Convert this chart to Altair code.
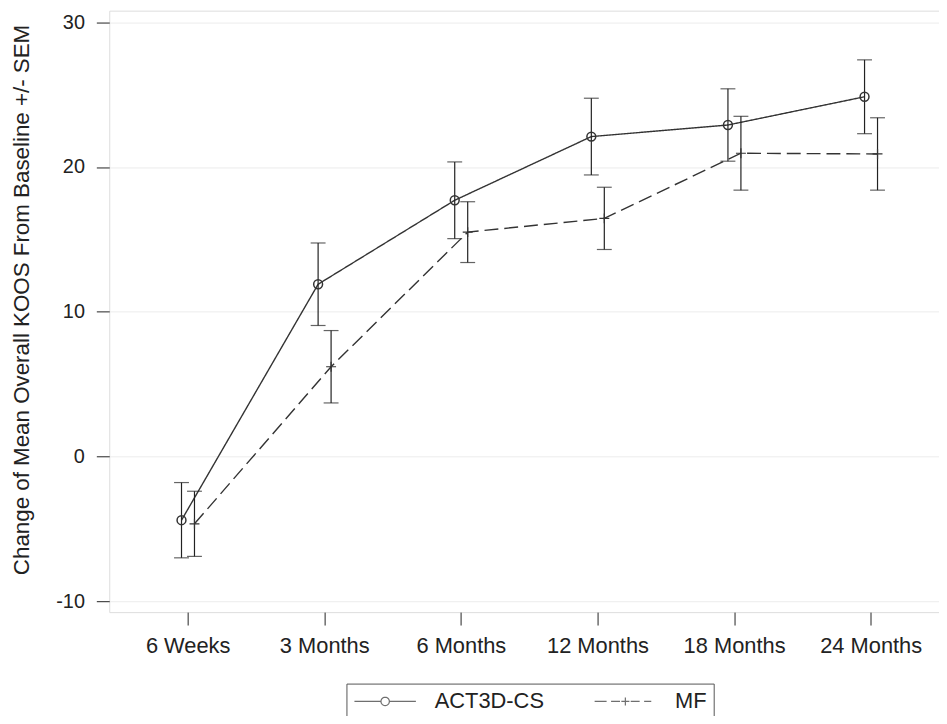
import math
import altair as alt
import pandas as pd

categories = ["6 Weeks", "3 Months", "6 Months", "12 Months", "18 Months", "24 Months"]
act_mean = [-4.4, 11.9, 17.7, 22.1, 22.9, 24.85]
act_sem = [2.6, 2.85, 2.65, 2.65, 2.5, 2.55]
mf_mean = [-4.65, 6.2, 15.5, 16.45, 20.95, 20.9]
mf_sem = [2.25, 2.5, 2.1, 2.15, 2.55, 2.5]
series_names = ["ACT3D-CS", "MF"]
y_ticks = [-10, 0, 10, 20, 30]

FONT = "Liberation Sans"
INK = "#333333"
DODGE = {"ACT3D-CS": -0.045, "MF": 0.05}

rows = []
for name, means, sems in [("ACT3D-CS", act_mean, act_sem), ("MF", mf_mean, mf_sem)]:
    for i, (m, s) in enumerate(zip(means, sems)):
        rows.append({"series": name, "idx": i, "x": i + DODGE[name],
                     "mean": m, "lo": m - s, "hi": m + s})
df = pd.DataFrame(rows)

label_expr = "[" + ",".join("'" + c + "'" for c in categories) + "][datum.value]"

xs = alt.Scale(domain=[-0.574, 5.5], nice=False, zero=False)
ys = alt.Scale(domain=[-10.75, 30.8], nice=False, zero=False)

x_axis = alt.Axis(values=list(range(len(categories))), labelExpr=label_expr, title=None,
                  grid=False, domain=False, tickSize=13, tickColor="#222", labelPadding=11,
                  labelFontSize=22, labelFont=FONT, labelColor="#222")
y_axis = alt.Axis(values=y_ticks, labelExpr="'' + datum.value",
                  title="Change of Mean Overall KOOS From Baseline +/- SEM",
                  grid=True, gridColor="#ececec", domain=False, tickSize=13, tickColor="#222",
                  labelPadding=12, labelFontSize=20, labelFont=FONT, labelColor="#222",
                  titleFontSize=22.5, titleFont=FONT, titleFontWeight="normal", titleColor="#222",
                  titlePadding=22, titleY=291)

base = alt.Chart(df)

def layers_for(name, dash, shape, size, sw):
    d = base.transform_filter(alt.datum.series == name)
    line = d.mark_line(color=INK, strokeWidth=1.4, strokeDash=dash).encode(
        x=alt.X("x:Q", scale=xs, axis=x_axis), y=alt.Y("mean:Q", scale=ys, axis=y_axis))
    rule = d.mark_rule(color="#222", strokeWidth=1.2).encode(
        x="x:Q", y="lo:Q", y2="hi:Q")
    cap_lo = d.mark_tick(orient="horizontal", color="#222", thickness=1.2, size=15).encode(
        x="x:Q", y="lo:Q")
    cap_hi = d.mark_tick(orient="horizontal", color="#222", thickness=1.2, size=15).encode(
        x="x:Q", y="hi:Q")
    pts = d.mark_point(shape=shape, filled=False, color=INK, size=size, strokeWidth=sw,
                       opacity=1).encode(x="x:Q", y="mean:Q")
    return [line, rule, cap_lo, cap_hi, pts]

# legend key paths (line + marker); 1 unit = 9 px with symbolSize 324
circ = []
r = 0.47
for k in range(25):
    a = 2 * math.pi * k / 24
    circ.append(("M" if k == 0 else "L") + f"{r*math.cos(a):.3f},{r*math.sin(a):.3f}")
act_path = f"M-3.44,0H-{r}M{r},0H3.44" + "".join(circ)
mf_path = ("M-3.44,0H-2.1M-1.6,0H-0.6M-0.45,0H0.45M0,-0.45V0.45"
           "M0.6,0H1.6M2.1,0H2.9")

legend_layer = base.transform_filter("false").mark_point(filled=False, color=INK).encode(
    x="x:Q", y="mean:Q",
    shape=alt.Shape("series:N",
                    scale=alt.Scale(domain=series_names, range=[act_path, mf_path]),
                    legend=alt.Legend(title=None, orient="none", direction="horizontal",
                                      legendX=239, legendY=678, symbolSize=324,
                                      symbolOffset=21, symbolStrokeWidth=1.2,
                                      symbolStrokeColor=INK, symbolFillColor="transparent",
                                      labelFontSize=22, labelFont=FONT, labelColor="#222",
                                      labelOffset=39, columnPadding=47, padding=7,
                                      strokeColor="#555", cornerRadius=0)))

chart = alt.layer(
    *layers_for("ACT3D-CS", [1, 0], "circle", 80, 1.5),
    *layers_for("MF", [14, 6], "M-1,0H1M0,-1V1", 100, 1.2),
    legend_layer,
).properties(
    width=836, height=606,
    autosize=alt.AutoSizeParams(type="none"),
    padding={"left": 102, "top": 0, "right": 0, "bottom": 102},
).configure_view(stroke="#7a7a7a", strokeWidth=1.5).configure(background="white")

chart.save("out.html", embed_options={"renderer": "svg", "actions": False})
